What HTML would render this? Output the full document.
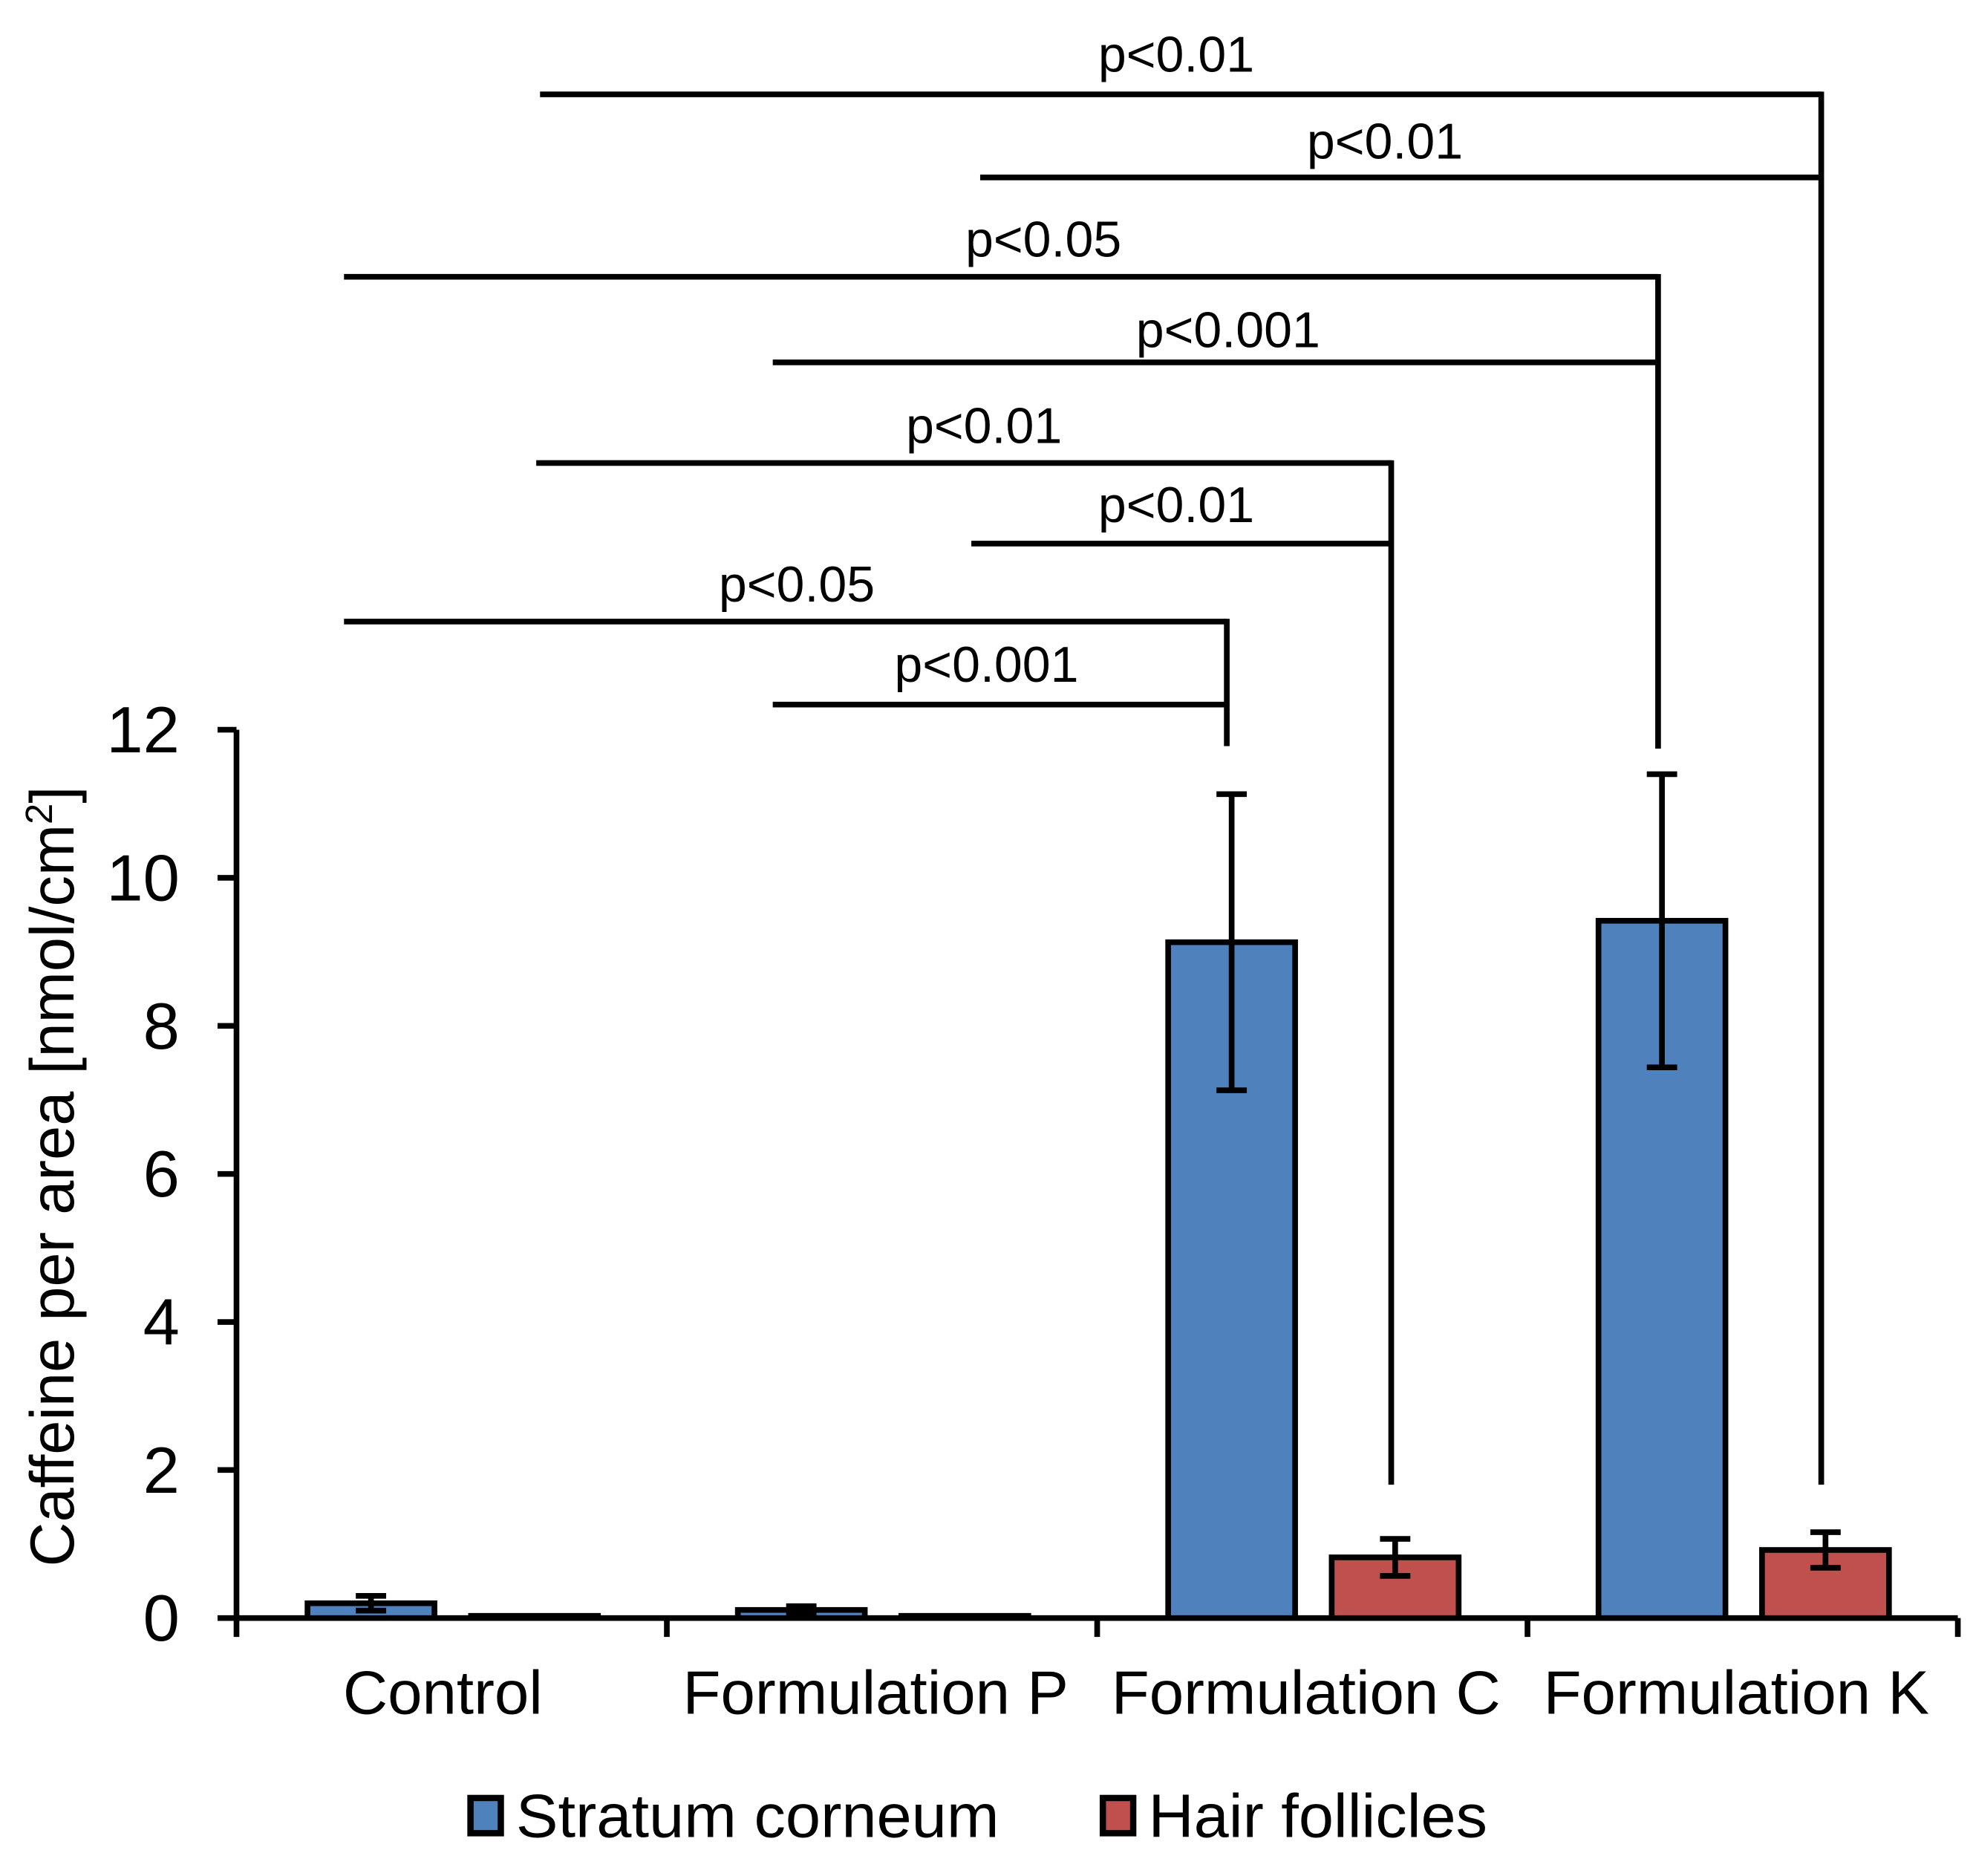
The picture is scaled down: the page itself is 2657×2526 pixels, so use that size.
<!DOCTYPE html>
<html><head><meta charset="utf-8"><style>
html,body{margin:0;padding:0;background:#fff;}
svg{display:block;font-family:"Liberation Sans",Arial,sans-serif;}
</style></head><body>
<svg id="chart" width="2657" height="2526" viewBox="0 0 1560 1491" preserveAspectRatio="none" xmlns="http://www.w3.org/2000/svg">
<rect width="1560" height="1491" fill="#fff"/>
<g id="axes"></g><g id="bars"></g><g id="brackets"></g><g id="legend"></g>
</svg>
<script>
const categories = ["Control", "Formulation P", "Formulation C", "Formulation K"];
const seriesNames = ["Stratum corneum", "Hair follicles"];
const stratumValues = [0.2, 0.11, 9.13, 9.42];
const stratumErrors = [0.1, 0.05, 2.0, 1.98];
const follicleValues = [0.03, 0.03, 0.82, 0.92];
const follicleErrors = [0.0, 0.0, 0.25, 0.24];
const yTicks = [0, 2, 4, 6, 8, 10, 12];
const pLabels = ["p<0.01","p<0.01","p<0.05","p<0.001","p<0.01","p<0.01","p<0.05","p<0.001"];

const NS = "http://www.w3.org/2000/svg";
const X0 = 187, X1 = 1548, Y0 = 1286, YTOP = 580, YMAX = 12;
const SW = 4.5;
const groupW = (X1 - X0) / categories.length;
function yScale(v){ return Y0 - (v / YMAX) * (Y0 - YTOP); }
function xGroup(i){ return X0 + i * groupW; }
function mk(tag, attrs, parent){ const e = document.createElementNS(NS, tag); for (const k in attrs) e.setAttribute(k, attrs[k]); parent.appendChild(e); return e; }

const axes = document.getElementById('axes');
const bars = document.getElementById('bars');
const br = document.getElementById('brackets');
const lg = document.getElementById('legend');

let yl = mk('line', {x1:X0, y1:YTOP, x2:X0, y2:Y0+15, stroke:'#000','stroke-width':SW}, axes);


yTicks.forEach(t => {
  const y = yScale(t);
  let tk = mk('line', {x1:X0-15, y1:y, x2:X0, y2:y, stroke:'#000','stroke-width':SW}, axes);
  
  
  let tx = mk('text', {x:142, y:y+18, 'text-anchor':'end', 'font-size':52}, axes);
  tx.textContent = t;
  
  
});
let yt = mk('text', {x:0, y:0, 'text-anchor':'middle', 'font-size':49, transform:'translate(58,935) rotate(-90)'}, axes);
yt.innerHTML = 'Caffeine per area [nmol/cm<tspan dy="-17" font-size="30">2</tspan><tspan dy="17">]</tspan>';



let xl = mk('line', {x1:X0, y1:Y0, x2:X1, y2:Y0, stroke:'#000','stroke-width':SW}, axes);


for (let i = 1; i <= categories.length; i++) {
  let tk = mk('line', {x1:xGroup(i), y1:Y0, x2:xGroup(i), y2:Y0+15, stroke:'#000','stroke-width':SW}, axes);
  
  
}
categories.forEach((c, i) => {
  let tx = mk('text', {x:xGroup(i)+groupW*0.5+(i===0?-7:-5), y:1362, 'text-anchor':'middle', 'font-size':49}, axes);
  tx.textContent = c;
  
  
});

function drawBar(i, v, e, off, color, name){
  const x = xGroup(i) + groupW * off, w = groupW * 0.295;
  let r = mk('rect', {x:x, y:yScale(v), width:w, height:Y0 - yScale(v), fill:color, stroke:'#000', 'stroke-width':SW}, bars);
  
  
  if (e > 0) {
    const cx = x + w/2;
    const g = mk('g', {stroke:'#000','stroke-width':SW}, bars);
    
    
    mk('line', {x1:cx, y1:yScale(v+e), x2:cx, y2:yScale(v-e)}, g);
    mk('line', {x1:cx-12, y1:yScale(v+e), x2:cx+12, y2:yScale(v+e)}, g);
    mk('line', {x1:cx-12, y1:yScale(v-e), x2:cx+12, y2:yScale(v-e)}, g);
  }
}
categories.forEach((c, i) => {
  drawBar(i, stratumValues[i], stratumErrors[i], 0.165, '#4f81bd', 'bar-stratum-corneum');
  drawBar(i, follicleValues[i], follicleErrors[i], 0.545, '#c0504d', 'bar-hair-follicles');
});

const bk = [
  [75, 427, 1440, 1180, 930, 57],
  [141, 775, 1440, null, 1095, 126],
  [220, 272, 1311, 595, 825, 204],
  [288, 611, 1311, null, 971, 276],
  [368, 424, 1100, 1180, 778, 352],
  [432, 768, 1100, null, 930, 415],
  [494, 272, 970, 593, 630, 478],
  [560, 611, 970, null, 780, 542]
];
bk.forEach((b, k) => {
  const g = mk('g', {}, br);
  
  
  mk('line', {x1:b[1], y1:b[0], x2:b[2], y2:b[0], stroke:'#000','stroke-width':SW}, g);
  if (b[3]) mk('line', {x1:b[2], y1:b[0]-2.2, x2:b[2], y2:b[3], stroke:'#000','stroke-width':SW}, g);
  const t = mk('text', {x:b[4], y:b[5], 'text-anchor':'middle', 'font-size':40}, g);
  t.textContent = pLabels[k];
});

[[370, '#4f81bd', seriesNames[0], 382],[870, '#c0504d', seriesNames[1], 268]].forEach(l => {
  const g = mk('g', {}, lg);
  
  
  mk('rect', {x:l[0]+2, y:1429, width:24, height:28, fill:l[1], stroke:'#000','stroke-width':5}, g);
  const t = mk('text', {x:l[0]+38, y:1460, 'font-size':49, textLength:l[3], lengthAdjust:'spacingAndGlyphs'}, g);
  t.textContent = l[2];
});
</script>
</body></html>
